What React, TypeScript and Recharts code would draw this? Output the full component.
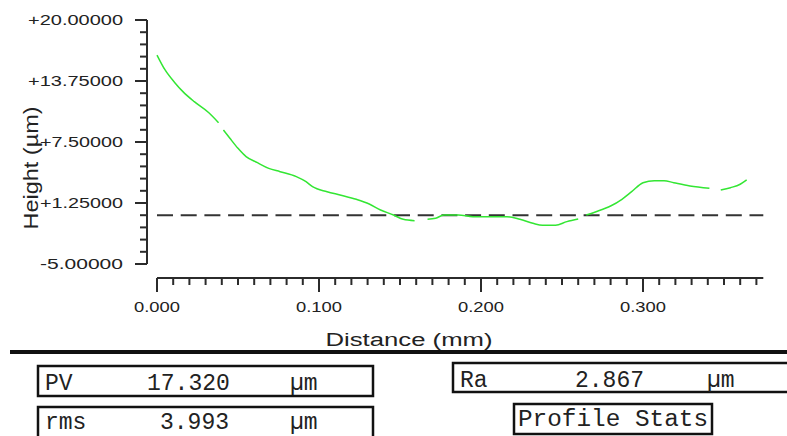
import { LineChart, Line, XAxis, YAxis, ReferenceLine } from 'recharts';

// profile (mm, µm); null = gap in the trace
const distance = [
  0, 0.005, 0.011, 0.016, 0.023, 0.032, 0.038, 0.04, 0.041, 0.045, 0.05, 0.055, 0.062, 0.069,
  0.076, 0.086, 0.092, 0.096, 0.105, 0.113, 0.123, 0.131, 0.138, 0.146, 0.152, 0.159, 0.163,
  0.167, 0.172, 0.177, 0.186, 0.195, 0.216, 0.224, 0.232, 0.238, 0.246, 0.253, 0.26, 0.263,
  0.265, 0.271, 0.28, 0.287, 0.293, 0.3, 0.307, 0.313, 0.319, 0.329, 0.341, 0.344, 0.348,
  0.354, 0.36, 0.364,
];
const height = [
  16.41, 14.88, 13.58, 12.66, 11.63, 10.5, 9.48, null, 8.73, 7.88, 6.85, 6.0, 5.38, 4.8,
  4.46, 3.95, 3.43, 2.92, 2.41, 2.07, 1.63, 1.15, 0.53, 0.02, -0.42, -0.56, null,
  -0.42, -0.32, 0.02, 0.02, -0.15, -0.15, -0.42, -0.83, -1.04, -1.04, -0.66, -0.39, null,
  0.02, 0.36, 0.94, 1.63, 2.41, 3.33, 3.54, 3.54, 3.33, 3.0, 2.76, null, 2.58,
  2.82, 3.17, 3.61,
];

const xLabels = ['0.000', '0.100', '0.200', '0.300'];
const yLabels = ['-5.00000', '+1.25000', '+7.50000', '+13.75000', '+20.00000'];
const xTicks = Array.from({ length: 38 }, (_, i) => i / 100);
const yTicks = Array.from({ length: 21 }, (_, i) => -5 + i * 1.25);

const statNames = ['PV', 'rms', 'Ra'];
const statValues = ['17.320', '3.993', '2.867'];
const statUnit = 'µm';

const data = distance.map((d, i) => ({ d, h: height[i] }));

const X_MIN = -0.00617;
const X_MAX = 0.37426;
const Y_MIN = -6.434;
const Y_MAX = 20;

const SANS = '"Liberation Sans", Arial, sans-serif';
const MONO = '"Liberation Mono", "DejaVu Sans Mono", monospace';
const AXIS = '#2b2b2b';

const XTick = (props: any) => {
  const { x, y, payload } = props;
  const i = Math.round(payload.value * 100);
  const major = i % 10 === 0;
  return (
    <g>
      <line x1={x} x2={x} y1={y} y2={y + (major ? 14 : 7)} stroke={AXIS} strokeWidth={2} />
      {major && (
        <text x={x} y={y + 34} textAnchor="middle" fontSize={14} fontFamily={SANS} fill="#222"
          textLength={46} lengthAdjust="spacingAndGlyphs">
          {xLabels[i / 10]}
        </text>
      )}
    </g>
  );
};

const YTick = (props: any) => {
  const { x, y, payload } = props;
  const k = Math.round((payload.value + 5) / 1.25);
  const major = k % 5 === 0;
  const label = major ? yLabels[k / 5] : '';
  return (
    <g>
      <line x1={x - (major ? 12 : 7)} x2={x} y1={y} y2={y} stroke={AXIS} strokeWidth={2} />
      {major && (
        <text x={x - 24} y={y + 5} textAnchor="end" fontSize={14} fontFamily={SANS} fill="#222"
          textLength={label.length > 8 ? 95 : 83} lengthAdjust="spacingAndGlyphs">
          {label}
        </text>
      )}
    </g>
  );
};

export default function App() {
  return (
    <div style={{ position: 'absolute', left: 0, top: 0, width: 787, height: 436, background: '#fff' }}>
      <LineChart width={787} height={436} data={data}
        margin={{ top: 20, right: 23.7, bottom: 128, left: 107 }}>
        <XAxis dataKey="d" type="number" domain={[X_MIN, X_MAX]} allowDataOverflow
          ticks={xTicks} interval={0} height={30} axisLine={false} tickLine={false}
          tickSize={0} tickMargin={0} tick={<XTick />} />
        <YAxis type="number" domain={[Y_MIN, Y_MAX]} allowDataOverflow ticks={yTicks}
          interval={0} width={40} axisLine={false} tickLine={false} tickSize={0}
          tickMargin={0} tick={<YTick />} />
        <ReferenceLine segment={[{ x: X_MIN, y: -5 }, { x: X_MIN, y: 20 }]}
          stroke={AXIS} strokeWidth={2} ifOverflow="visible" />
        <ReferenceLine segment={[{ x: 0, y: Y_MIN }, { x: X_MAX, y: Y_MIN }]}
          stroke={AXIS} strokeWidth={2} ifOverflow="visible" />
        <ReferenceLine segment={[{ x: 0, y: 0 }, { x: X_MAX, y: 0 }]}
          stroke="#333" strokeWidth={2} strokeDasharray="16 7.7" ifOverflow="visible" />
        <Line dataKey="h" type="monotone" stroke="#33e633" strokeWidth={1.5} dot={false}
          connectNulls={false} isAnimationActive={false} />
      </LineChart>
      <svg width={787} height={436} style={{ position: 'absolute', left: 0, top: 0, pointerEvents: 'none' }}>
        <text x={409} y={346} textAnchor="middle" fontSize={18} fontFamily={SANS} fill="#222"
          textLength={167} lengthAdjust="spacingAndGlyphs">Distance (mm)</text>
        <text x={0} y={0} transform="translate(38,168) rotate(-90)" textAnchor="middle" fontSize={20}
          fontFamily={SANS} fill="#222" textLength={123} lengthAdjust="spacingAndGlyphs">Height (µm)</text>
        <line x1={10} x2={787} y1={352} y2={352} stroke="#111" strokeWidth={4} />
        <g fontFamily={MONO} fontSize={23} fill="#222">
          <rect x={38} y={366} width={335} height={30} fill="none" stroke="#111" strokeWidth={2.5} />
          <text x={45} y={390}>{statNames[0]}</text>
          <text x={147} y={390}>{statValues[0]}</text>
          <text x={290} y={390}>{statUnit}</text>
          <rect x={38} y={407} width={335} height={40} fill="none" stroke="#111" strokeWidth={2.5} />
          <text x={45} y={429}>{statNames[1]}</text>
          <text x={160} y={429}>{statValues[1]}</text>
          <text x={290} y={429}>{statUnit}</text>
          <rect x={453} y={363} width={345} height={29} fill="none" stroke="#111" strokeWidth={2.5} />
          <text x={460} y={387}>{statNames[2]}</text>
          <text x={575} y={387}>{statValues[2]}</text>
          <text x={707} y={387}>{statUnit}</text>
          <rect x={514} y={404} width={198} height={30} fill="none" stroke="#111" strokeWidth={2.5} />
          <text x={518} y={426} textLength={190} lengthAdjust="spacingAndGlyphs">Profile Stats</text>
        </g>
      </svg>
    </div>
  );
}
